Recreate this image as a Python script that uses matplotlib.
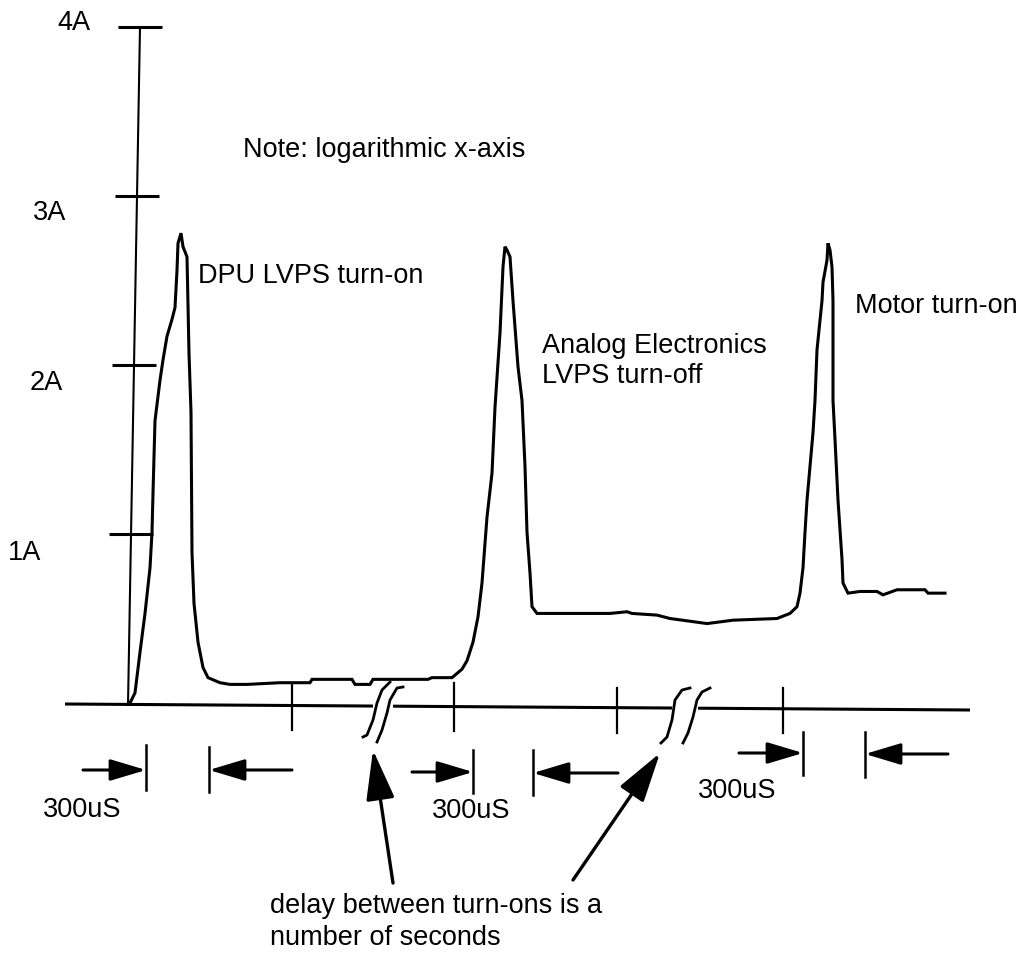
import numpy as np
import matplotlib
matplotlib.use('Agg')
import matplotlib.pyplot as plt
from matplotlib.patches import ArrowStyle

plt.rcParams['font.family'] = ['Liberation Sans', 'DejaVu Sans']

# current trace (x = position along log time axis, y = amps)
trace_x = [130, 135, 140, 145, 150, 152, 153, 155, 160, 163, 167, 172, 175, 177, 178, 181,
           183, 187, 189, 191, 192, 194, 198, 203, 208, 220, 230, 247, 280, 310, 312, 352,
           355, 370, 373, 428, 432, 452, 462, 467, 473, 478, 482, 487, 492, 495, 500, 503,
           505, 507, 510, 513, 518, 522, 525, 527, 530, 532, 537, 570, 580, 610, 627, 632,
           657, 670, 707, 733, 777, 790, 797, 800, 803, 805, 807, 810, 813, 815, 817, 822,
           823, 827, 828, 830, 832, 833, 833, 835, 838, 842, 843, 848, 860, 877, 883, 897,
           925, 928, 945]
trace_amps = [0.00, 0.06, 0.30, 0.53, 0.80, 1.01, 1.24, 1.67, 1.91, 2.03, 2.17, 2.27, 2.34, 2.56, 2.72, 2.78,
              2.70, 2.64, 2.07, 1.72, 0.89, 0.59, 0.36, 0.21, 0.15, 0.12, 0.11, 0.11, 0.12, 0.12, 0.14, 0.14,
              0.11, 0.11, 0.14, 0.14, 0.15, 0.15, 0.20, 0.25, 0.36, 0.51, 0.71, 1.10, 1.36, 1.75, 2.19, 2.58,
              2.70, 2.68, 2.64, 2.38, 1.99, 1.79, 1.40, 1.01, 0.77, 0.57, 0.53, 0.53, 0.53, 0.53, 0.54, 0.53,
              0.52, 0.50, 0.47, 0.49, 0.50, 0.53, 0.57, 0.65, 0.80, 1.01, 1.20, 1.40, 1.60, 1.79, 2.09, 2.38,
              2.49, 2.62, 2.72, 2.68, 2.58, 2.38, 1.79, 1.56, 1.20, 0.85, 0.71, 0.65, 0.66, 0.66, 0.64, 0.67,
              0.67, 0.65, 0.65]

amp_ticks = [1, 2, 3, 4]
amp_labels = ['1A', '2A', '3A', '4A']
time_ticks = [292, 454, 617, 783]
span_label = '300uS'

peak_labels = ['DPU LVPS turn-on', 'Analog Electronics', 'LVPS turn-off', 'Motor turn-on']
note_text = 'Note: logarithmic x-axis'
delay_text = ['delay between turn-ons is a', 'number of seconds']


def amp(ypx):
    # picture row -> amps (0A sits on the time axis, 169 px per amp)
    return (703 - ypx) / 169.0


fig = plt.figure(figsize=(10.24, 9.61), dpi=100)
ax = fig.add_axes([0, 0, 1, 1])
ax.set_xlim(0, 1024)
ax.set_ylim(amp(961), amp(0))
ax.axis('off')

fs = 19.5

# y axis (slightly slanted as drawn)
ax.plot([128, 140], [amp(705), amp(27)], color='black', lw=1.5)
label_left = [8, 30, 33, 57]
label_base = [560, 390, 220, 30]
for a, lab, lx, lb in zip(amp_ticks, amp_labels, label_left, label_base):
    xc = 128 + 3 * a
    ax.plot([xc - 22, xc + 22], [a, a], color='black', lw=2.2, solid_capstyle='butt')
    ax.text(lx, amp(lb), lab, fontsize=fs, ha='left', va='baseline')

# x axis with two breaks
def axis_y(x):
    return amp(704 + (x - 65) * 6 / 905.0)

for x0, x1 in [(65, 373), (393, 672), (698, 970)]:
    ax.plot([x0, x1], [axis_y(x0), axis_y(x1)], color='black', lw=2.2, solid_capstyle='butt')

tick_top = [683, 683, 688, 688]
tick_bot = [730, 731, 733, 733]
for t, tt, tb in zip(time_ticks, tick_top, tick_bot):
    ax.plot([t, t], [amp(tt), amp(tb)], color='black', lw=1.6)

breaks = [
    ([363, 367, 373, 377, 382, 390], [737, 735, 720, 703, 690, 682]),
    ([377, 382, 387, 390, 397, 403], [742, 730, 713, 700, 688, 687]),
    ([661, 667, 672, 675, 682, 690], [743, 737, 720, 700, 690, 688]),
    ([683, 688, 693, 697, 702, 710], [743, 733, 717, 700, 692, 688]),
]
for bx, by in breaks:
    ax.plot(bx, [amp(v) for v in by], color='black', lw=2.0)

# the current trace
ax.plot(trace_x, trace_amps, color='black', lw=2.2, solid_joinstyle='miter')

# 300uS dimension markers
bars = [(146, 745, 790), (209, 747, 792), (473, 750, 793), (533, 750, 795), (803, 732, 775), (865, 732, 777)]
for bx, b0, b1 in bars:
    ax.plot([bx, bx], [amp(b0), amp(b1)], color='black', lw=1.8)

dim_style = ArrowStyle('-|>', head_length=1.1, head_width=0.33)
dims = [(83, 146, 770), (292, 209, 770), (412, 473, 772), (618, 533, 773), (739, 803, 753), (948, 865, 754)]
for xs, xe, yy in dims:
    ax.annotate('', xy=(xe, amp(yy)), xytext=(xs, amp(yy)),
                arrowprops=dict(arrowstyle=dim_style, mutation_scale=20, lw=2.2, color='black',
                                shrinkA=0, shrinkB=0))

for lx, lb in [(43, 817), (432, 818), (698, 798)]:
    ax.text(lx, amp(lb), span_label, fontsize=fs, ha='left', va='baseline')

# delay arrows pointing to the breaks
big_style = ArrowStyle('-|>', head_length=1.4, head_width=0.4)
for (xs, ys), (xe, ye) in [((393, 883), (373, 750)), ((573, 880), (660, 753))]:
    ax.annotate('', xy=(xe, amp(ye)), xytext=(xs, amp(ys)),
                arrowprops=dict(arrowstyle=big_style, mutation_scale=22, lw=2.4, color='black',
                                shrinkA=0, shrinkB=0))

# labels
ax.text(243, amp(157), note_text, fontsize=fs, ha='left', va='baseline')
ax.text(198, amp(283), peak_labels[0], fontsize=fs, ha='left', va='baseline')
ax.text(542, amp(353), peak_labels[1], fontsize=fs, ha='left', va='baseline')
ax.text(542, amp(383), peak_labels[2], fontsize=fs, ha='left', va='baseline')
ax.text(855, amp(313), peak_labels[3], fontsize=fs, ha='left', va='baseline')
ax.text(270, amp(913), delay_text[0], fontsize=fs, ha='left', va='baseline')
ax.text(270, amp(945), delay_text[1], fontsize=fs, ha='left', va='baseline')

fig.savefig('out.png', dpi=100, facecolor='white')
